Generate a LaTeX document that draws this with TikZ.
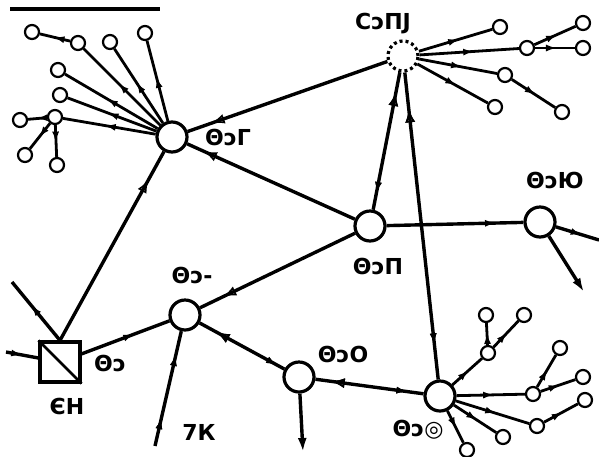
\documentclass[tikz,border=0pt]{standalone}
\usepackage{fontspec}
\setmainfont{DejaVu Sans}
\usepackage{tikz}
\usetikzlibrary{arrows.meta,positioning,decorations.markings}

\tikzset{
  hub/.style={circle,draw,line width=3.2pt,minimum size=30pt,inner sep=0pt,fill=white},
  leaf/.style={circle,draw,line width=2.2pt,minimum size=14pt,inner sep=0pt,fill=white},
  src/.style={rectangle,draw,line width=3.2pt,minimum size=40pt,inner sep=0pt,fill=white},
  link/.style={line width=3.4pt},
  twig/.style={line width=2.8pt},
  fwd/.style={postaction={decorate},decoration={markings,mark=at position #1 with {\arrow{Latex[length=11pt,width=7pt]}}}},
  rev/.style={postaction={decorate},decoration={markings,mark=at position #1 with {\arrow{Latex[reversed,length=11pt,width=7pt]}}}},
  opn/.style={postaction={decorate},decoration={markings,mark=at position #1 with {\arrow{Latex[open,length=13pt,width=10pt,line width=1.6pt]}}}},
  fwd/.default=0.55,
  lbl/.style={font=\fontsize{22}{23}\selectfont\bfseries,inner sep=0pt}
}

\begin{document}
\begin{tikzpicture}[x=1pt,y=-1pt]
\useasboundingbox (0,0) rectangle (599,456);
\draw[line width=3.5pt] (10,9) -- (160,9);

% main nodes
\node[hub] (G) at (172,137) {};
\node[hub,dashed] (T) at (403,56) {};
\node[hub] (P) at (370,226) {};
\node[hub] (Yu) at (540,222) {};
\node[hub] (M) at (185,315) {};
\node[hub] (O) at (299,377) {};
\node[hub] (H) at (440,396) {};
\node[src] (S) at (60,362) {};
\draw[line width=2.8pt] (S.north west) -- (S.south east);

% leaves of G
\node[leaf] (g1) at (78,43) {};
\node[leaf] (g2) at (32,32) {};
\node[leaf] (g3) at (110,42) {};
\node[leaf] (g4) at (145,33) {};
\node[leaf] (g5) at (58,70) {};
\node[leaf] (g6) at (60,95) {};
\node[leaf] (g7) at (55,117) {};
\node[leaf] (g8) at (20,120) {};
\node[leaf] (g9) at (25,155) {};
\node[leaf] (g10) at (57,165) {};

% leaves of T
\node[leaf] (t1) at (500,27) {};
\node[leaf] (t2) at (527,48) {};
\node[leaf] (t3) at (583,23) {};
\node[leaf] (t4) at (583,48) {};
\node[leaf] (t5) at (505,75) {};
\node[leaf] (t6) at (562,112) {};
\node[leaf] (t7) at (495,107) {};

% leaves of H
\node[leaf] (h1) at (488,353) {};
\node[leaf] (h2) at (486,315) {};
\node[leaf] (h3) at (524,315) {};
\node[leaf] (h4) at (533,394) {};
\node[leaf] (h5) at (560,348) {};
\node[leaf] (h6) at (583,377) {};
\node[leaf] (h7) at (537,426) {};
\node[leaf] (h8) at (585,400) {};
\node[leaf] (h9) at (503,437) {};
\node[leaf] (h10) at (467,450) {};

% free ends
\coordinate (sL) at (6,352);
\coordinate (sU) at (12,282);
\coordinate (mB) at (155,446);
\coordinate (oB) at (303,452);
\coordinate (yB) at (584,292);
\coordinate (yR) at (599,240);

% twigs
\foreach \a/\b in {G/g1,g1/g2,G/g3,G/g4,G/g5,G/g6,G/g7,g7/g8,g7/g9,g7/g10,
                   T/t1,T/t2,t2/t3,t2/t4,T/t5,t5/t6,T/t7,
                   H/h1,h1/h2,h1/h3,H/h4,h4/h5,h4/h6,H/h7,h7/h8,H/h9,H/h10}
  \draw[twig,fwd] (\a) -- (\b);

% links
\draw[link,opn=0.85] (S.north) -- (G);
\draw[link,opn=0.88] (T) -- (G);
\draw[link,opn=0.9] (P) -- (G);
\draw[link,opn=0.85] (P) -- (M);
\draw[link,opn=0.8,rev=0.2] (O) -- (M);
\draw[link,opn=0.85,rev=0.25] (H) -- (O);
\draw[link,fwd=0.6] (S) -- (M);
\draw[link,opn=0.85,rev=0.2] (P) -- (T);
\draw[link,opn=0.88,rev=0.15] (H) -- (T);
\draw[link,fwd=0.8] (P) -- (Yu);
\draw[link,rev=0.3,rev=0.85] (M) -- (mB);
\draw[link,-{Latex[length=14pt,width=9pt]}] (O) -- (oB);
\draw[link,-{Latex[length=14pt,width=9pt]}] (Yu) -- (yB);
\draw[link,fwd=0.6] (Yu) -- (yR);
\draw[link,fwd=0.5] (sL) -- (S);
\draw[link,fwd=0.6] (S.north) -- (sU);

% labels
\node[lbl] (lG) at (228,137) {ΘɔΓ};
\node[lbl] (lT) at (383,24) {CɔПJ};
\node[lbl] (lP) at (378,266) {ΘɔП};
\node[lbl] (lYu) at (555,180) {ΘɔЮ};
\node[lbl] (lM) at (192,275) {Θɔ-};
\node[lbl] (lO) at (343,354) {ΘɔO};
\node[lbl] (lH) at (418,430) {Θɔ◎};
\node[lbl] (lS) at (110,363) {Θɔ};
\node[lbl] (lE) at (67,406) {ЄН};
\node[lbl] (lK) at (199,432) {7К};
\end{tikzpicture}
\end{document}
